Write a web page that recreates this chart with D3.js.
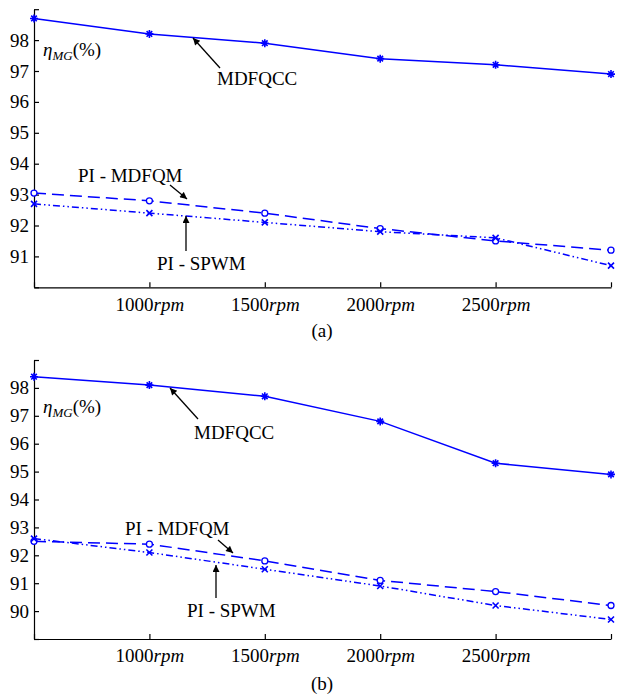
<!DOCTYPE html>
<html lang="en">
<head>
  <meta charset="utf-8">
  <title>Efficiency vs speed</title>
  <script src="https://d3js.org/d3.v7.min.js"></script>
  <style>
    body { margin: 0; background: #fff; }
    svg text { font-family: "DejaVu Serif", serif; fill: #000; }
    svg text.times { font-family: "Liberation Serif", "Times New Roman", Times, "DejaVu Serif", serif; }
  </style>
</head>
<body>
	<script type="text/javascript">

		// speeds (rpm) on the x axis
		var speeds = [500, 1000, 1500, 2000, 2500, 3000];
		var speedLabels = ["", "1000", "1500", "2000", "2500", ""];

		// panel (a) efficiency, %
		var aMDFQCC = [98.7, 98.2, 97.9, 97.4, 97.2, 96.9];
		var aPIMDFQM = [93.05, 92.8, 92.4, 91.9, 91.5, 91.2];
		var aPISPWM = [92.7, 92.4, 92.1, 91.8, 91.6, 90.7];
		var aTicks = [90, 91, 92, 93, 94, 95, 96, 97, 98, 99];

		// panel (b) efficiency, %
		var bMDFQCC = [98.4, 98.1, 97.7, 96.8, 95.3, 94.9];
		var bPIMDFQM = [92.5, 92.4, 91.8, 91.1, 90.7, 90.2];
		var bPISPWM = [92.6, 92.1, 91.5, 90.9, 90.2, 89.7];
		var bTicks = [89, 90, 91, 92, 93, 94, 95, 96, 97, 98, 99];

		var blue = "#0000ff";
		var fontSize = 19;

		var svg = d3.select("body")
					.append("svg")
					.attr("width", 618)
					.attr("height", 694);

		// arrow head
		svg.append("defs").append("marker")
			.attr("id", "head")
			.attr("viewBox", "0 0 10 10")
			.attr("refX", 10)
			.attr("refY", 5)
			.attr("markerWidth", 9)
			.attr("markerHeight", 7)
			.attr("markerUnits", "userSpaceOnUse")
			.attr("orient", "auto")
			.append("path")
			.attr("d", "M0,0 L10,5 L0,10 Z")
			.attr("fill", "#000");

		var xScale = d3.scaleLinear().domain([500, 3000]).range([34, 611]);

		// marker shapes
		function starPath(s) {
			var d = s * 0.7;
			return "M" + (-s) + ",0L" + s + ",0M0," + (-s) + "L0," + s +
				"M" + (-d) + "," + (-d) + "L" + d + "," + d + "M" + (-d) + "," + d + "L" + d + "," + (-d);
		}
		function crossPath(s) {
			return "M" + (-s) + "," + (-s) + "L" + s + "," + s + "M" + (-s) + "," + s + "L" + s + "," + (-s);
		}

		function drawPanel(cfg) {
			var yScale = d3.scaleLinear().domain(cfg.domain).range(cfg.range);
			var g = svg.append("g");

			// y axis, ticks pointing inwards
			var yAxis = d3.axisLeft(yScale)
				.tickValues(cfg.ticks)
				.tickSize(-5)
				.tickSizeOuter(0)
				.tickPadding(5)
				.tickFormat(function(d) {
					return (d === cfg.domain[0] || d === cfg.domain[1]) ? "" : d;
				});
			var gy = g.append("g")
				.attr("transform", "translate(" + xScale.range()[0] + ",0)")
				.call(yAxis);

			// x axis
			var xAxis = d3.axisBottom(xScale)
				.tickValues(speeds)
				.tickSize(-5)
				.tickSizeOuter(0)
				.tickPadding(10)
				.tickFormat(function(d, i) { return speedLabels[i]; });
			var gx = g.append("g")
				.attr("transform", "translate(0," + cfg.range[0] + ")")
				.call(xAxis);

			[gx, gy].forEach(function(a) {
				a.attr("font-family", null);
				a.selectAll("path, line").attr("stroke", "#000").attr("stroke-width", 1.2);
				a.selectAll("text").attr("class", "times").attr("font-size", fontSize);
			});

			gx.selectAll(".tick text").each(function(d, i) {
				var t = d3.select(this);
				var lab = speedLabels[i];
				t.text("");
				if (lab) {
					t.append("tspan").text(lab);
					t.append("tspan").attr("font-style", "italic").text("rpm");
				}
			});

			var line = d3.line()
				.x(function(d, i) { return xScale(speeds[i]); })
				.y(function(d) { return yScale(d); });

			var series = [
				{ values: cfg.s1, dash: null, marker: "star" },
				{ values: cfg.s2, dash: "12,6", marker: "circle" },
				{ values: cfg.s3, dash: "7,3,1.5,3,1.5,3", marker: "cross" }
			];

			series.forEach(function(s) {
				g.append("path")
					.datum(s.values)
					.attr("d", line)
					.attr("fill", "none")
					.attr("stroke", blue)
					.attr("stroke-width", 1.5)
					.attr("stroke-dasharray", s.dash);

				var pts = g.selectAll(null)
					.data(s.values)
					.enter();
				if (s.marker === "circle") {
					pts.append("circle")
						.attr("cx", function(d, i) { return xScale(speeds[i]); })
						.attr("cy", function(d) { return yScale(d); })
						.attr("r", 3)
						.attr("fill", "#fff")
						.attr("stroke", blue)
						.attr("stroke-width", 1.3);
				} else {
					pts.append("path")
						.attr("transform", function(d, i) {
							return "translate(" + xScale(speeds[i]) + "," + yScale(d) + ")";
						})
						.attr("d", s.marker === "star" ? starPath(4) : crossPath(3))
						.attr("fill", "none")
						.attr("stroke", blue)
						.attr("stroke-width", 1.6);
				}
			});

			// y label
			var lab = g.append("text")
				.attr("class", "times")
				.attr("x", cfg.eta[0])
				.attr("y", cfg.eta[1])
				.attr("font-size", fontSize);
			lab.append("tspan").attr("font-style", "italic").text("η");
			lab.append("tspan").attr("font-style", "italic").attr("font-size", 13)
				.attr("dy", 4).text("MG");
			lab.append("tspan").attr("dy", -4).text("(%)");

			// annotations with arrows
			cfg.notes.forEach(function(n) {
				g.append("text")
					.attr("class", "times")
					.attr("x", n.tx)
					.attr("y", n.ty)
					.attr("font-size", fontSize)
					.text(n.text);
				g.append("line")
					.attr("x1", n.a[0]).attr("y1", n.a[1])
					.attr("x2", n.a[2]).attr("y2", n.a[3])
					.attr("stroke", "#000")
					.attr("stroke-width", 1.3)
					.attr("marker-end", "url(#head)");
			});

			g.append("text")
				.attr("class", "times")
				.attr("x", 322)
				.attr("y", cfg.capY)
				.attr("text-anchor", "middle")
				.attr("font-size", fontSize)
				.text(cfg.caption);
		}

		drawPanel({
			domain: [90, 99], range: [287.3, 9.2], ticks: aTicks,
			s1: aMDFQCC, s2: aPIMDFQM, s3: aPISPWM,
			eta: [43, 56],
			notes: [
				{ text: "MDFQCC", tx: 217, ty: 85, a: [220, 68, 193, 38] },
				{ text: "PI - MDFQM", tx: 78, ty: 182, a: [170, 185, 187, 199] },
				{ text: "PI - SPWM", tx: 157, ty: 270, a: [186, 251, 186, 216] }
			],
			caption: "(a)", capY: 337
		});

		drawPanel({
			domain: [89, 99], range: [639, 360], ticks: bTicks,
			s1: bMDFQCC, s2: bPIMDFQM, s3: bPISPWM,
			eta: [43, 413],
			notes: [
				{ text: "MDFQCC", tx: 194, ty: 439, a: [198, 419, 170, 388] },
				{ text: "PI - MDFQM", tx: 125, ty: 535, a: [218, 540, 233, 553] },
				{ text: "PI - SPWM", tx: 187, ty: 617, a: [216, 598, 216, 565] }
			],
			caption: "(b)", capY: 690
		});
	</script>
</body>
</html>
